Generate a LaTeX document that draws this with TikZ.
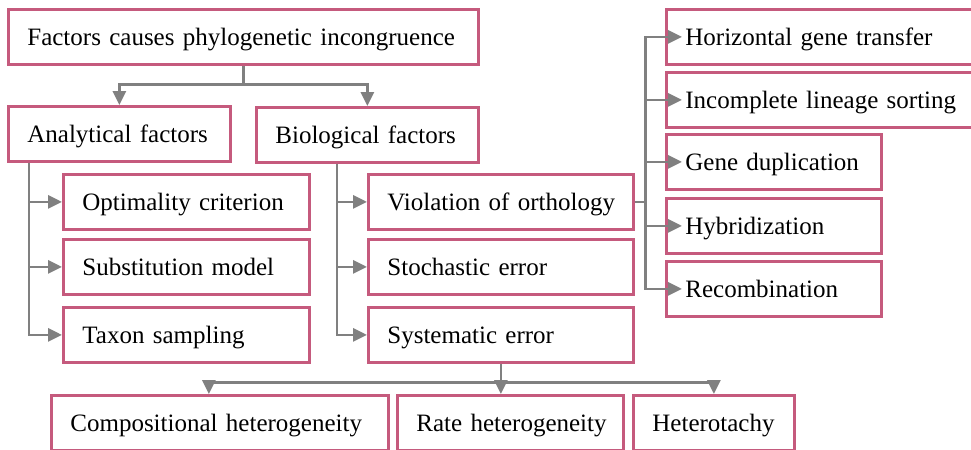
\documentclass[tikz,border=0pt]{standalone}
\usepackage{fontspec}
\setmainfont{Liberation Serif}
\usepackage{tikz}
\usetikzlibrary{arrows.meta,calc}
\definecolor{boxred}{RGB}{197,90,125}
\definecolor{arrgray}{RGB}{128,128,128}

\begin{document}
\begin{tikzpicture}[x=0.5pt,y=-0.5pt,
		box/.style={draw=boxred,line width=1.4pt,anchor=north west,
			inner xsep=9.5pt,inner ysep=0pt,minimum height=27.5pt,text width=#1,
			text height=8.3pt,text depth=0pt,font=\fontsize{12.5}{15}\selectfont,
			execute at begin node={\noindent\hbox\bgroup},execute at end node={\egroup}},
		arr/.style={draw=arrgray,line width=1.4pt,-{Triangle[length=7pt,width=6.5pt]}}]
		\useasboundingbox (0,0) rectangle (971,450);
		%
		\node[box=216pt] (top) at (7,8) {Factors causes phylogenetic incongruence};
		\node[box=92pt] (ana) at (7,105) {Analytical factors};
		\node[box=92pt] (bio) at (255,106) {Biological factors};
		%
		\node[box=104pt] (opt) at (62,173) {Optimality criterion};
		\node[box=104pt] (sub) at (62,238) {Substitution model};
		\node[box=104pt] (tax) at (62,306) {Taxon sampling};
		\node[box=113.5pt] (viol) at (367,173) {Violation of orthology};
		\node[box=113.5pt] (stoch) at (367,238) {Stochastic error};
		\node[box=113.5pt] (sys) at (367,306) {Systematic error};
		%
		\node[box=136pt] (hgt) at (665,8) {Horizontal gene transfer};
		\node[box=136pt] (ils) at (665,71) {Incomplete lineage sorting};
		\node[box=88.5pt] (gdup) at (665,133) {Gene duplication};
		\node[box=88.5pt] (hyb) at (665,197) {Hybridization};
		\node[box=88.5pt] (recomb) at (665,260) {Recombination};
		%
		\node[box=149.5pt] (comp) at (50,394) {Compositional heterogeneity};
		\node[box=94pt] (rate) at (396,394) {Rate heterogeneity};
		\node[box=61.5pt] (het) at (632,394) {Heterotachy};
		%
		\coordinate (j1) at ($(top.south)+(0,19)$);
		\draw[arr] (top.south) -- (j1) -| (ana);
		\draw[arr] (j1) -| (bio);
		%
		\foreach \n in {opt,sub,tax}
			\draw[arr] ($(ana.south west)+(22,0)$) |- (\n);
		\foreach \n in {viol,stoch,sys}
			\draw[arr] ($(bio.south west)+(82,0)$) |- (\n);
		\foreach \n in {hgt,ils,gdup,hyb,recomb}
			\draw[arr] (viol.east) -- ++(11,0) |- ($(\n.west)+(17,0)$);
		%
		\coordinate (j2) at ($(sys.south)+(0,19)$);
		\draw[arr] (sys.south) -- (sys.south |- rate.north);
		\draw[arr] (j2) -| ($(comp.north)+(-11,0)$);
		\draw[arr] (j2) -| (het);
	\end{tikzpicture}
\end{document}
